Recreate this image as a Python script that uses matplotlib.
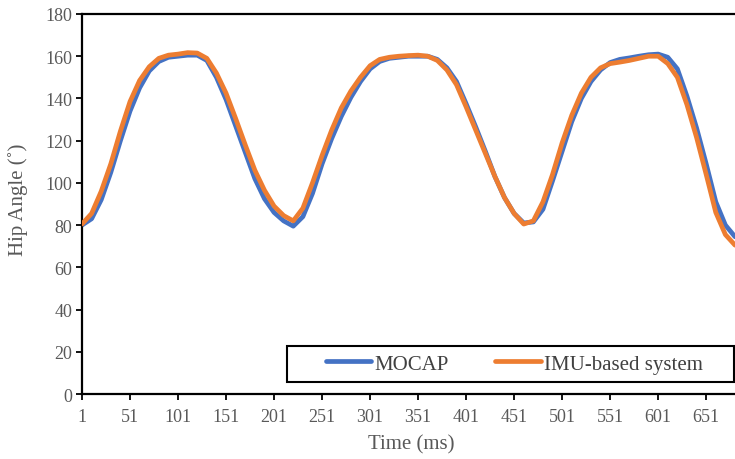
import matplotlib.pyplot as plt
from matplotlib.patches import Rectangle

# time samples (ms) and hip angle readings (deg)
time_ms = list(range(1, 682, 10))

mocap = [80, 83, 92, 105, 120, 134, 145, 153, 157.5, 159.5,
         160, 160.5, 160.5, 158, 150, 139.5, 127, 114.5, 102, 92.5,
         86, 82, 79.5, 84, 95, 109, 121, 131.5, 140.5, 148,
         154, 157.5, 159, 159.5, 160, 160, 160, 158.5, 154.5, 148,
         137.5, 126.5, 115, 103, 93, 85.5, 81, 81.5, 87.5, 101,
         115, 129, 140, 148, 153.5, 157, 158.5, 159.2, 160, 160.7,
         161, 159.5, 154, 141, 126, 109, 91, 80, 74.5]

imu = [80.5, 85.5, 96, 109, 124.5, 138.5, 148.5, 155, 159, 160.5,
       161, 161.7, 161.5, 159, 152, 142.5, 130.5, 118, 106, 96.5,
       89, 84.5, 82, 88, 100, 113, 125, 135.5, 143.5, 150,
       155.5, 158.5, 159.5, 160, 160.3, 160.5, 160, 158, 153.5, 146.5,
       136, 125, 114, 103, 93, 85.5, 80.5, 82, 91, 104,
       119, 132, 142.5, 150, 154.5, 156.5, 157.2, 158, 159, 160,
       160, 156.5, 150, 137, 121.5, 104, 86, 75.5, 70.5]

series_names = ["MOCAP", "IMU-based system"]
x_ticks = list(range(1, 652, 50))
y_ticks = list(range(0, 181, 20))

plt.rcParams['font.family'] = ['Liberation Serif', 'DejaVu Serif']
gray = '#595959'

fig = plt.figure(figsize=(7.35, 4.6), dpi=100)
ax = fig.add_axes([82 / 735, 1 - 395 / 460, 1 - 82 / 735, 380 / 460])

ax.plot(time_ms, mocap, color='#4472C4', lw=3.4, solid_capstyle='round',
        solid_joinstyle='round', label=series_names[0], zorder=2)
ax.plot(time_ms, imu, color='#ED7D31', lw=3.4, solid_capstyle='round',
        solid_joinstyle='round', label=series_names[1], zorder=3)

ax.set_xlim(1, 681)
ax.set_ylim(0, 180)
ax.set_xticks(x_ticks)
ax.set_yticks(y_ticks)
ax.tick_params(axis='both', labelsize=13, labelcolor=gray, color='black',
               length=4, width=1.3, direction='out')
ax.tick_params(axis='x', pad=6)
ax.tick_params(axis='y', pad=3)

for side in ['left', 'bottom', 'top']:
    ax.spines[side].set_linewidth(1.6)
    ax.spines[side].set_color('black')
ax.spines['right'].set_visible(False)

fig.text(411 / 735, 1 - 445 / 460, "Time (ms)", fontsize=15,
         color=gray, ha='center', va='center')
fig.text(18 / 735, 1 - 200 / 460, "Hip Angle (˚)", fontsize=15,
         color=gray, ha='center', va='center', rotation=90)

# legend box
fig.patches.append(Rectangle((287 / 735, 1 - 383 / 460), 447 / 735, 36 / 460,
                             transform=fig.transFigure, fill=True,
                             facecolor='white', edgecolor='black', lw=1.5,
                             zorder=5))
leg = fig.legend(loc='center', bbox_to_anchor=(514 / 735, 1 - 365 / 460),
                 ncol=2, frameon=False, fontsize=15, handlelength=2.2,
                 handletextpad=0.15, columnspacing=2.2)
for t in leg.get_texts():
    t.set_color('#404040')
leg.set_zorder(6)

fig.savefig("out.png", dpi=100)
